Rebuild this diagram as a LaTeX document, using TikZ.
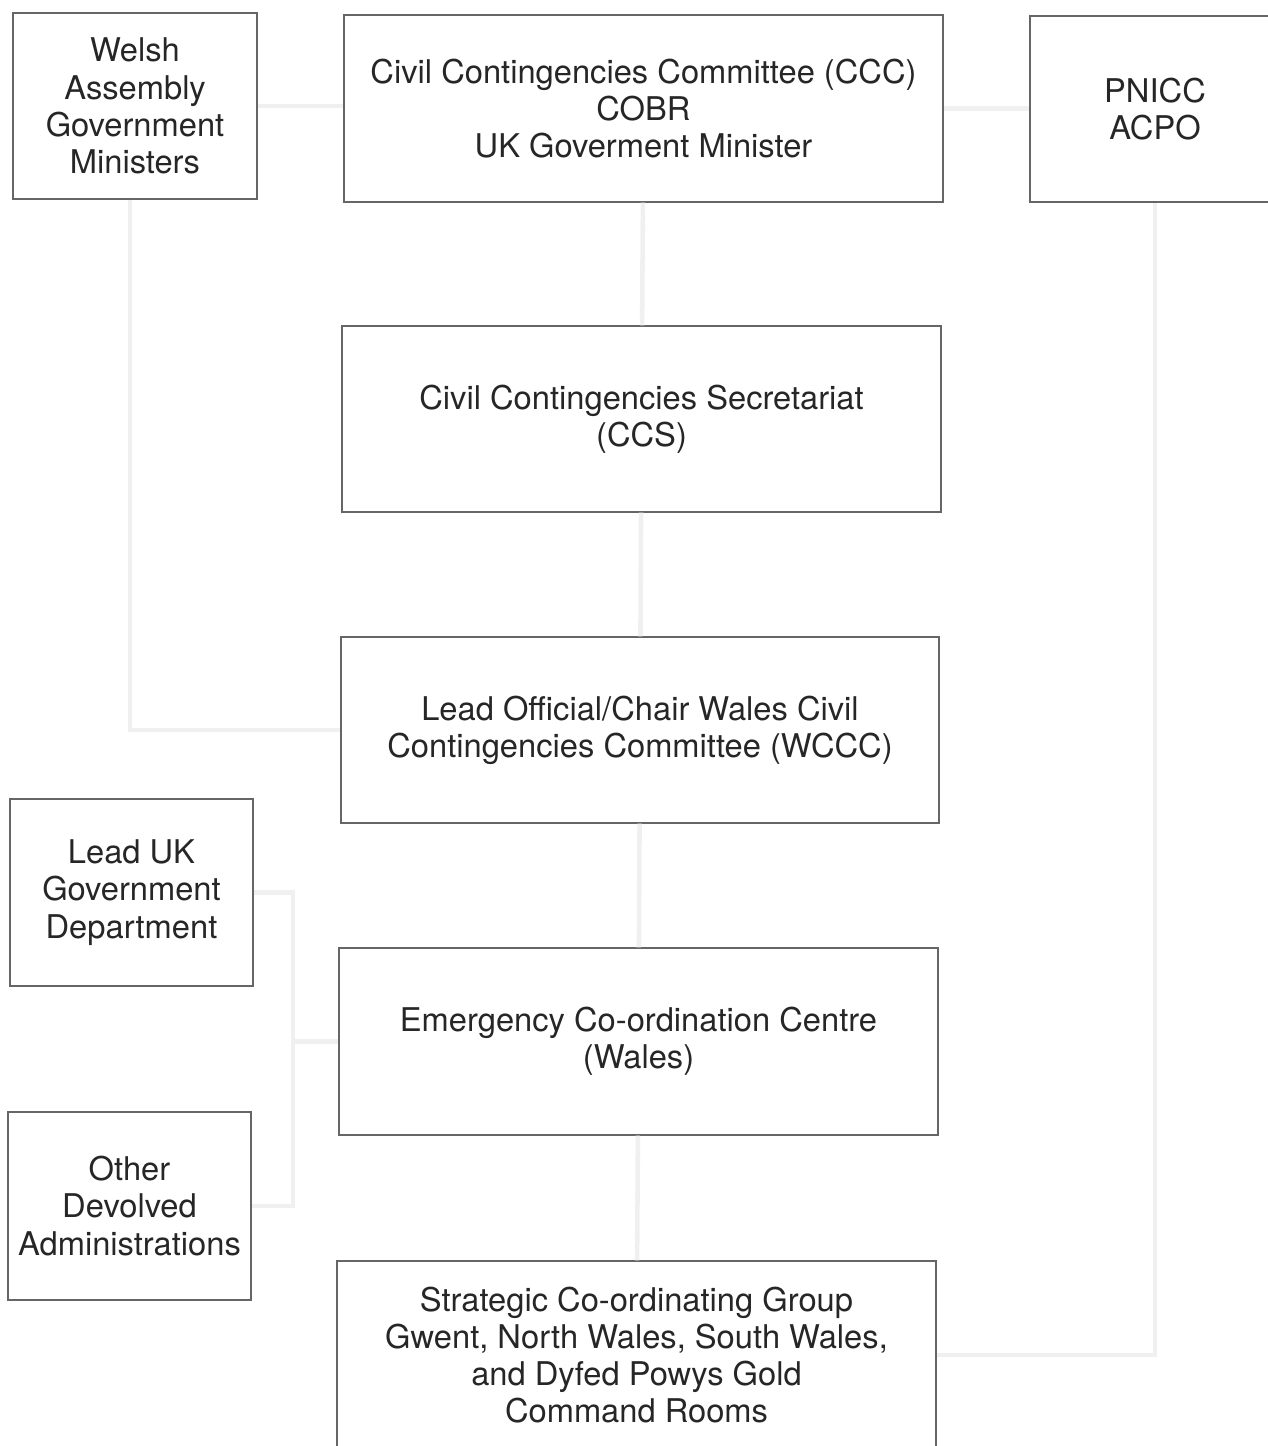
\documentclass[tikz,border=0pt]{standalone}
\usepackage{fontspec}
\setmainfont{TeX Gyre Heros}
\begin{document}
\begin{tikzpicture}[
            x=0.02cm, y=-0.02cm,
            box/.style={
                draw=black!60,
                line width=0.7pt,
                align=center,
                inner sep=0pt,
                text=black!85,
                font=\fontsize{18.6}{21.2}\selectfont
            },
            link/.style={
                draw=black!6,
                line width=2.6pt
            }
        ]

            \useasboundingbox (0, 0) rectangle (1267, 1446);

            % top row
            \node[box, minimum width=4.88cm, minimum height=3.72cm] (wagm) at (135, 106)
                {Welsh\\Assembly\\Government\\Ministers};
            \node[box, minimum width=11.98cm, minimum height=3.74cm] (ccc) at (643.5, 108.5)
                {Civil Contingencies Committee (CCC)\\COBR\\UK Goverment Minister};
            \node[box, minimum width=5cm, minimum height=3.72cm] (pnicc) at (1155, 109)
                {PNICC\\ACPO};

            % centre column
            \node[box, minimum width=11.98cm, minimum height=3.72cm] (ccs) at (641.5, 419)
                {Civil Contingencies Secretariat\\(CCS)};
            \node[box, minimum width=11.96cm, minimum height=3.72cm] (lead) at (640, 730)
                {Lead Official/Chair Wales Civil\\Contingencies Committee (WCCC)};
            \node[box, minimum width=11.98cm, minimum height=3.74cm] (ecc) at (638.5, 1041.5)
                {Emergency Co-ordination Centre\\(Wales)};
            \node[box, minimum width=11.98cm, minimum height=3.76cm] (scg) at (636.5, 1355)
                {Strategic Co-ordinating Group\\Gwent, North Wales, South Wales,\\and Dyfed Powys Gold\\Command Rooms};

            % left column
            \node[box, minimum width=4.86cm, minimum height=3.74cm] (luk) at (131.5, 892.5)
                {Lead UK\\Government\\Department};
            \node[box, minimum width=4.86cm, minimum height=3.76cm] (oda) at (129.5, 1206)
                {Other\\Devolved\\Administrations};

            \coordinate (lukbus) at (293, 892);

            \draw[link] (wagm.east) -- (wagm.east -| ccc.west);
            \draw[link] (ccc.east) -- (ccc.east -| pnicc.west);
            \draw[link] (ccc) -- (ccs);
            \draw[link] (ccs) -- (lead);
            \draw[link] (lead) -- (ecc);
            \draw[link] (ecc) -- (scg);
            \draw[link] ([xshift=-0.1cm]wagm.south) |- (lead.west);
            \draw[link] (luk.east) -- (luk.east -| lukbus) |- (oda.east);
            \draw[link] (luk.east -| lukbus) |- (ecc.west);
            \draw[link] (pnicc.south) |- (scg.east);

        \end{tikzpicture}
\end{document}
